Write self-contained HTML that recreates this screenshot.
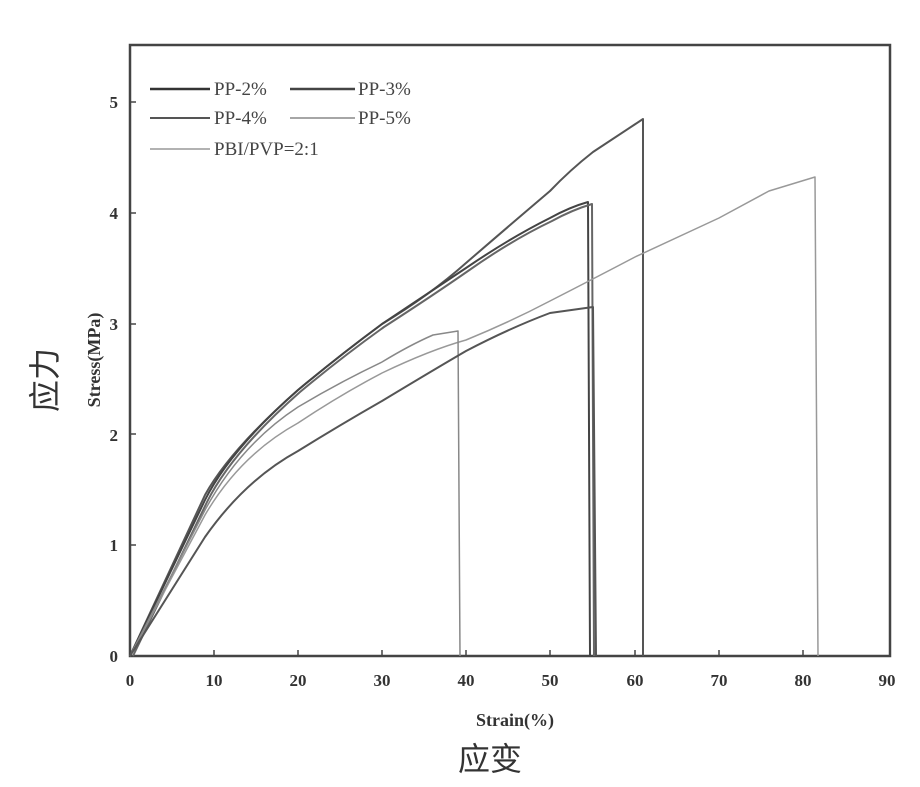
<!DOCTYPE html><html><head><style>body{margin:0;background:#fff}svg{display:block}</style></head><body>
<svg width="920" height="787" viewBox="0 0 920 787" font-family="Liberation Serif, serif">
<rect x="130" y="45" width="760" height="611" fill="none" stroke="#444" stroke-width="2.5"/>
<g stroke="#444" stroke-width="1.5">
<line x1="214" y1="656" x2="214" y2="650"/><line x1="298" y1="656" x2="298" y2="650"/><line x1="382" y1="656" x2="382" y2="650"/><line x1="466" y1="656" x2="466" y2="650"/><line x1="550" y1="656" x2="550" y2="650"/><line x1="635" y1="656" x2="635" y2="650"/><line x1="719" y1="656" x2="719" y2="650"/><line x1="803" y1="656" x2="803" y2="650"/>
<line x1="130" y1="545" x2="136" y2="545"/><line x1="130" y1="434" x2="136" y2="434"/><line x1="130" y1="324" x2="136" y2="324"/><line x1="130" y1="213" x2="136" y2="213"/><line x1="130" y1="102" x2="136" y2="102"/>
</g>
<g font-size="17" font-weight="bold" fill="#333" text-anchor="middle">
<text x="130" y="686">0</text><text x="214" y="686">10</text><text x="298" y="686">20</text><text x="382" y="686">30</text><text x="466" y="686">40</text><text x="550" y="686">50</text><text x="635" y="686">60</text><text x="719" y="686">70</text><text x="803" y="686">80</text><text x="887" y="686">90</text>
</g>
<g font-size="17" font-weight="bold" fill="#333" text-anchor="end">
<text x="118" y="662">0</text><text x="118" y="551">1</text><text x="118" y="441">2</text><text x="118" y="330">3</text><text x="118" y="219">4</text><text x="118" y="108">5</text>
</g>
<text x="515" y="726" font-size="18" font-weight="bold" text-anchor="middle" fill="#333">Strain(%)</text>
<text x="490" y="770" font-size="32" text-anchor="middle" fill="#333" font-family="Noto Sans CJK SC, sans-serif">应变</text>
<text transform="translate(100,360) rotate(-90)" font-size="18" font-weight="bold" text-anchor="middle" fill="#333">Stress(MPa)</text>
<text transform="translate(56,380) rotate(-90)" font-size="32" text-anchor="middle" fill="#333" font-family="Noto Sans CJK SC, sans-serif">应力</text>
<g font-size="19" fill="#444">
<line x1="150" y1="89" x2="210" y2="89" stroke="#333" stroke-width="2.5"/><text x="214" y="95">PP-2%</text>
<line x1="290" y1="89" x2="355" y2="89" stroke="#444" stroke-width="2.5"/><text x="358" y="95">PP-3%</text>
<line x1="150" y1="118" x2="210" y2="118" stroke="#555" stroke-width="2"/><text x="214" y="124">PP-4%</text>
<line x1="290" y1="118" x2="355" y2="118" stroke="#888" stroke-width="1.5"/><text x="358" y="124">PP-5%</text>
<line x1="150" y1="149" x2="210" y2="149" stroke="#999" stroke-width="1.5"/><text x="214" y="155">PBI/PVP=2:1</text>
</g>
<g fill="none" stroke-width="2" stroke-linejoin="round">
<path stroke="#555" d="M130,656 L205,495 Q230,450 298,390 Q340,355 382,324 Q430,295 466,263 Q510,225 550,191 Q570,170 593,152 L643,119 L643,656"/>
<path stroke="#444" d="M130,656 L205,500 Q230,450 298,390 Q340,355 382,324 Q430,292 466,268 Q510,238 550,218 Q570,207 588,202 L590,656"/>
<path stroke="#666" d="M133,656 L207,502 Q232,452 300,392 Q342,357 384,327 Q432,296 468,271 Q512,240 552,221 Q572,210 592,204 L594,656"/>
<path stroke="#999" stroke-width="1.5" d="M130,656 L205,515 Q240,455 298,423 Q340,395 382,373 Q430,350 466,340 Q510,322 550,301 Q595,278 635,257 Q680,236 719,218 L769,191 L815,177 L818,656"/>
<path stroke="#888" stroke-width="1.5" d="M130,656 L205,510 Q240,445 298,407 Q340,382 382,362 Q410,345 433,335 L458,331 L460,656"/>
<path stroke="#555" d="M130,656 L205,537 Q245,480 298,451 Q340,425 382,401 Q430,372 466,351 Q510,328 550,313 L593,307 L596,656"/>
</g>
</svg></body></html>
